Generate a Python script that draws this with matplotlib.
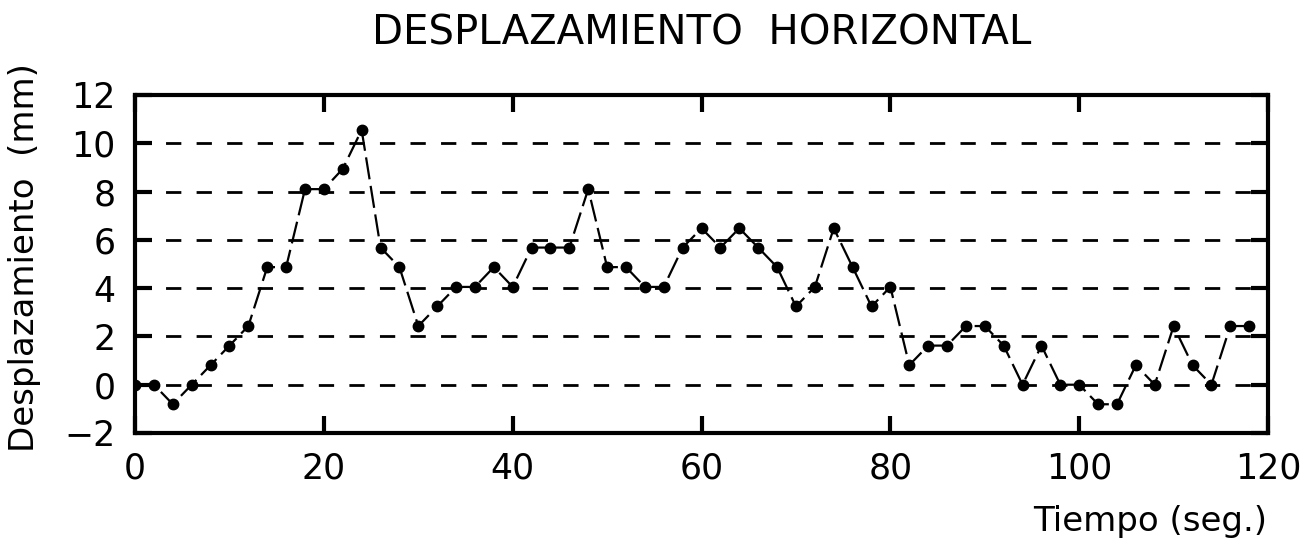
import matplotlib
matplotlib.use("Agg")
import matplotlib.pyplot as plt

# Time (s) and horizontal displacement (mm)
tiempo = [0, 2, 4, 6, 8, 10, 12, 14, 16, 18, 20, 22, 24, 26, 28, 30,
          32, 34, 36, 38, 40, 42, 44, 46, 48, 50, 52, 54, 56, 58, 60,
          62, 64, 66, 68, 70, 72, 74, 76, 78, 80, 82, 84, 86, 88, 90,
          92, 94, 96, 98, 100, 102, 104, 106, 108, 110, 112, 114, 116, 118]
desplazamiento = [0.0, 0.0, -0.81, 0.0, 0.81, 1.62, 2.43, 4.87, 4.87, 8.1,
                  8.1, 8.94, 10.55, 5.68, 4.87, 2.43, 3.24, 4.05, 4.05, 4.87,
                  4.05, 5.68, 5.68, 5.68, 8.1, 4.87, 4.87, 4.05, 4.05, 5.68,
                  6.48, 5.68, 6.48, 5.68, 4.87, 3.24, 4.05, 6.48, 4.87, 3.24,
                  4.05, 0.81, 1.62, 1.62, 2.43, 2.43, 1.62, 0.0, 1.62, 0.0,
                  0.0, -0.81, -0.81, 0.81, 0.0, 2.43, 0.81, 0.0, 2.43, 2.43]

x_ticks = [0, 20, 40, 60, 80, 100, 120]
y_ticks = [-2, 0, 2, 4, 6, 8, 10, 12]
grid_levels = [0, 2, 4, 6, 8, 10]

plt.rcParams['font.family'] = ['DejaVu Sans']

fig = plt.figure(figsize=(13.15, 5.49), dpi=100)
ax = fig.add_axes([0.1027, 0.2113, 0.8616, 0.6157])

for lvl in grid_levels:
    ax.axhline(lvl, color='black', lw=2.0, ls=(0, (5.5, 5.5)), zorder=1)

ax.plot(tiempo, desplazamiento, color='black', lw=1.6,
        ls=(0, (10, 3)), zorder=2)
ax.plot(tiempo, desplazamiento, 'o', color='black', ms=7.5, zorder=3)

ax.set_xlim(0, 120)
ax.set_ylim(-2, 12)
ax.set_xticks(x_ticks)
ax.set_yticks(y_ticks)
ax.tick_params(direction='in', length=12, width=3, labelsize=25,
               top=True, right=True)
ax.tick_params(axis='x', pad=13)
ax.tick_params(axis='y', pad=14)
for sp in ax.spines.values():
    sp.set_linewidth(3)

ax.set_title('DESPLAZAMIENTO  HORIZONTAL', fontsize=29, pad=36)
fig.text(25 / 1315, 0.53, 'Desplazamiento  (mm)', rotation=90,
         ha='center', va='center', fontsize=24.5)
fig.text(1150 / 1315, 0.033, 'Tiempo (seg.)', ha='center',
         va='baseline', fontsize=24.5)

fig.savefig('out.png', dpi=100)
